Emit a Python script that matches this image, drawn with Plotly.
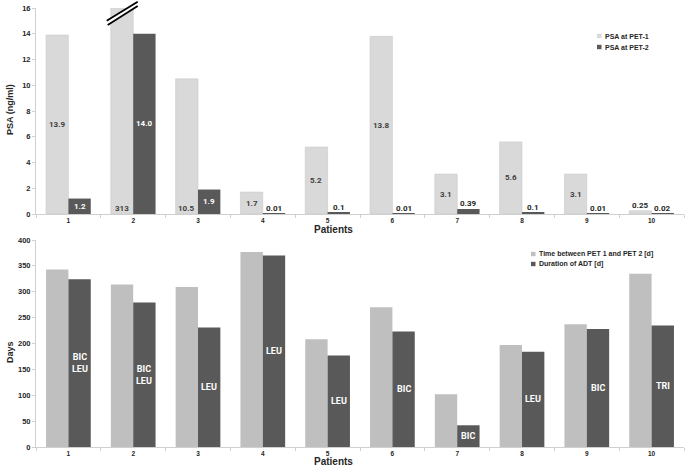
import plotly.graph_objects as go
from plotly.subplots import make_subplots

# ---------------- data ----------------
patients = ["1", "2", "3", "4", "5", "6", "7", "8", "9", "10"]

psa_pet1 = [13.9, 313, 10.5, 1.7, 5.2, 13.8, 3.1, 5.6, 3.1, 0.25]
psa_pet2 = [1.2, 14.0, 1.9, 0.01, 0.1, 0.01, 0.39, 0.1, 0.01, 0.02]
psa_pet1_text = ["13.9", "313", "10.5", "1.7", "5.2", "13.8", "3.1", "5.6", "3.1", "0.25"]
psa_pet2_text = ["1.2", "14.0", "1.9", "0.01", "0.1", "0.01", "0.39", "0.1", "0.01", "0.02"]

days_between = [343, 314, 309, 377, 208, 270, 102, 197, 237, 335]
days_adt = [324, 279, 231, 370, 177, 223, 42, 184, 228, 235]
therapy = ["BIC<br>LEU", "BIC<br>LEU", "LEU", "LEU", "LEU", "BIC", "BIC", "LEU", "BIC", "TRI"]

# label placement (style, not data)
psa1_pos = ["mid", "base", "base", "mid", "mid", "mid", "mid", "mid", "mid", "out"]
psa2_pos = ["mid", "mid", "mid", "out", "out", "out", "out", "out", "out", "out"]

# ---------------- styles ----------------
W, H = 685, 466
ML, MR, MT, MB = 36, 1, 8, 19
PW = W - ML - MR
PH = H - MT - MB
TOP_PX = (8, 214)      # pixel y of top subplot (top, bottom)
BOT_PX = (240, 447)

LIGHT1 = "#d9d9d9"
LIGHT2 = "#bfbfbf"
DARK = "#595959"
TXT = "#262626"
FONT = "Liberation Sans"
LBLFONT = "Roboto"
BARGAP = 0.31

def py2paper(py):
    return (H - MB - py) / PH

def px2paper(px):
    return (px - ML) / PW

fig = make_subplots(rows=2, cols=1, vertical_spacing=0.05)

fig.add_trace(go.Bar(x=patients, y=psa_pet1, name="PSA at PET-1",
                     marker=dict(color=LIGHT1, line=dict(color="#c9c9c9", width=0.6)),
                     showlegend=False), row=1, col=1)
fig.add_trace(go.Bar(x=patients, y=psa_pet2, name="PSA at PET-2",
                     marker=dict(color=DARK, line=dict(width=0)),
                     showlegend=False), row=1, col=1)
fig.add_trace(go.Bar(x=patients, y=days_between, name="Time between PET 1 and PET 2 [d]",
                     marker=dict(color=LIGHT2, line=dict(width=0)),
                     showlegend=False), row=2, col=1)
fig.add_trace(go.Bar(x=patients, y=days_adt, name="Duration of ADT [d]",
                     marker=dict(color=DARK, line=dict(width=0)),
                     showlegend=False), row=2, col=1)

cat_px = PW / len(patients)
bar_px = cat_px * (1 - BARGAP) / 2
off = bar_px / 2

ann = []

def add_label(xref, yref, idx, val, txt, pos, shift, color, size, ymax):
    v = min(val, ymax)
    base = dict(xref=xref, yref=yref, x=idx, text=txt, showarrow=False, xshift=shift,
                xanchor="center",
                font=dict(family=LBLFONT, size=size, color=color, weight="bold"))
    if pos == "mid":
        base.update(y=v / 2, yanchor="middle")
    elif pos == "base":
        base.update(y=0, yanchor="bottom", yshift=-1)
    else:
        base.update(y=v, yanchor="bottom", yshift=-1)
        base["font"] = dict(family=LBLFONT, size=size, color=TXT, weight="bold")
    ann.append(base)

for i, (v, t, pos) in enumerate(zip(psa_pet1, psa_pet1_text, psa1_pos)):
    add_label("x", "y", i, v, t, pos, -off, "#404040", 8, 16)
for i, (v, t, pos) in enumerate(zip(psa_pet2, psa_pet2_text, psa2_pos)):
    add_label("x", "y", i, v, t, pos, off, "white", 8, 16)
for i, (v, t) in enumerate(zip(days_adt, therapy)):
    add_label("x2", "y2", i, v, t, "mid", off, "white", 9, 400)

# axis titles
def title_ann(px, py, text, size, angle=0):
    ann.append(dict(xref="paper", yref="paper", x=px2paper(px), y=py2paper(py),
                    xanchor="center", yanchor="middle", text="<b>" + text + "</b>",
                    showarrow=False, textangle=angle,
                    font=dict(family=FONT, size=size, color=TXT)))

title_ann(333, 230, "Patients", 10)
title_ann(333, 461.5, "Patients", 10)
title_ann(10, 110, "PSA (ng/ml)", 9, -90)
title_ann(10, 352, "Days", 9, -90)

# custom legends
shapes = []
legends = [
    (597, [(36, "PSA at PET-1", LIGHT1), (47, "PSA at PET-2", DARK)]),
    (531, [(254, "Time between PET 1 and PET 2 [d]", LIGHT2), (264, "Duration of ADT [d]", DARK)]),
]
for lx, items in legends:
    for ly, name, col in items:
        shapes.append(dict(type="rect", xref="paper", yref="paper",
                           x0=px2paper(lx), x1=px2paper(lx + 4.5),
                           y0=py2paper(ly + 2.2), y1=py2paper(ly - 2.2),
                           fillcolor=col, line=dict(width=0)))
        ann.append(dict(xref="paper", yref="paper", x=px2paper(lx + 5.5), y=py2paper(ly),
                        xanchor="left", yanchor="middle", text="<b>" + name + "</b>", showarrow=False,
                        font=dict(family=FONT, size=7, color=TXT)))

# axis-break marks on the clipped PSA bar of patient 2
bi = patients.index("2")
cx = ML + (bi + 0.5) * cat_px  # category center pixel
top_h = TOP_PX[1] - TOP_PX[0]

def dx(px):
    return (px - ML) / PW

def dy(py):
    return (TOP_PX[1] - py) / top_h

for (x0, y0, x1, y1, col, w) in [
    (cx - 26, 22.9, cx + 4.5, 3.9, "white", 4),
    (cx - 26.5, 20.7, cx + 4.5, 1.7, "black", 1.8),
    (cx - 25.5, 25.0, cx + 4.5, 6.0, "black", 1.8),
]:
    shapes.append(dict(type="line", xref="x domain", yref="y domain",
                       x0=dx(x0), y0=dy(y0), x1=dx(x1), y1=dy(y1),
                       line=dict(color=col, width=w)))

axis_common = dict(showgrid=False, zeroline=False, showline=True, linecolor="#d0d0d0", linewidth=1,
                   ticks="outside", ticklen=3, tickcolor="#d0d0d0", automargin=False,
                   tickfont=dict(family=FONT, size=7.5, color=TXT, weight="bold"))

fig.update_layout(
    width=W, height=H,
    margin=dict(l=ML, r=MR, t=MT, b=MB, autoexpand=False),
    paper_bgcolor="white", plot_bgcolor="white",
    barmode="group", bargap=BARGAP, bargroupgap=0,
    annotations=ann, shapes=shapes,
    showlegend=False,
    xaxis=dict(axis_common, domain=[0, 1], type="category", tickson="boundaries",
               tickfont=dict(family=FONT, size=6.5, color=TXT, weight="bold")),
    xaxis2=dict(axis_common, domain=[0, 1], type="category", tickson="boundaries",
                tickfont=dict(family=FONT, size=6.5, color=TXT, weight="bold")),
    yaxis=dict(axis_common, domain=[py2paper(TOP_PX[1]), 1], range=[0, 16], dtick=2),
    yaxis2=dict(axis_common, domain=[0, py2paper(BOT_PX[0])], range=[0, 400], dtick=50),
)

fig.write_html("out.html", config={"displayModeBar": False},
               post_script="document.body.style.margin='0';document.body.style.overflow='hidden';")
